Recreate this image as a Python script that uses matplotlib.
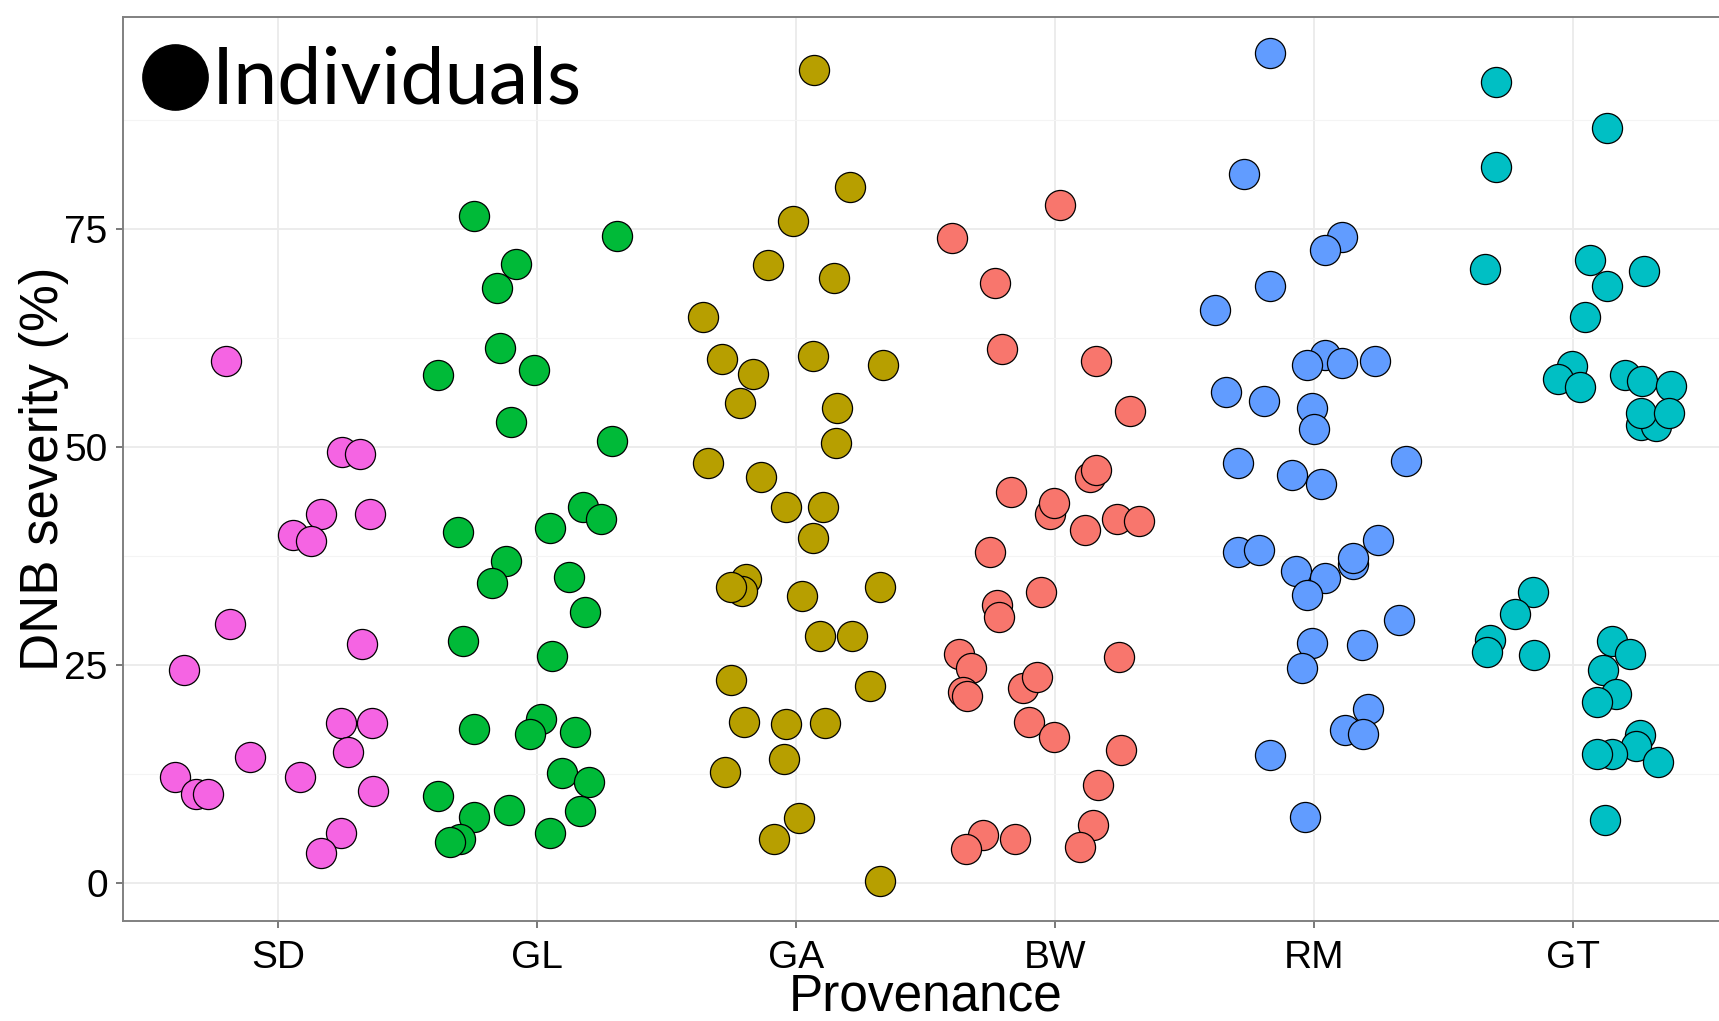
import matplotlib
matplotlib.use("Agg")
import matplotlib.pyplot as plt
from matplotlib.ticker import MultipleLocator

# ---------------- data ----------------
categories = ["SD", "GL", "GA", "BW", "RM", "GT"]
colors = ["#F564E3", "#00BA38", "#B79F00", "#F8766D", "#619CFF", "#00BFC4"]

sd_y = [59.8, 49.4, 49.2, 42.3, 42.3, 39.9, 39.2, 29.7, 24.4, 27.4, 18.3, 18.3,
        15.0, 14.4, 12.2, 12.2, 10.2, 10.2, 10.5, 5.7, 3.4]
sd_jit = [-0.204, 0.246, 0.317, 0.166, 0.352, 0.058, 0.125, -0.185, -0.365, 0.324,
          0.241, 0.360, 0.268, -0.110, -0.399, 0.083, -0.317, -0.272, 0.365, 0.242, 0.166]

gl_y = [76.5, 74.2, 71.0, 68.2, 61.3, 58.3, 58.8, 52.9, 50.7, 43.1, 41.7, 40.3,
        40.7, 36.9, 34.4, 35.1, 31.1, 27.7, 26.0, 18.8, 17.6, 17.1, 17.3, 12.6,
        11.6, 10.0, 8.4, 8.2, 7.6, 5.7, 5.1, 4.7]
gl_jit = [-0.246, 0.309, -0.081, -0.156, -0.143, -0.382, -0.013, -0.102, 0.288, 0.177,
          0.247, -0.307, 0.049, -0.122, -0.176, 0.123, 0.185, -0.287, 0.055, 0.015,
          -0.246, -0.027, 0.144, 0.096, 0.200, -0.382, -0.109, 0.164, -0.246, 0.049,
          -0.297, -0.336]

ga_y = [93.2, 79.8, 75.9, 70.9, 69.4, 64.9, 60.1, 60.4, 59.4, 58.4, 55.0, 54.5,
        50.4, 48.2, 46.6, 43.1, 43.1, 39.6, 34.8, 33.5, 33.9, 32.9, 33.9, 28.3,
        28.3, 23.3, 22.6, 18.5, 18.2, 18.3, 14.2, 12.7, 7.5, 5.1, 0.2]
ga_jit = [0.070, 0.208, -0.013, -0.109, 0.146, -0.361, -0.286, 0.064, 0.334, -0.169,
          -0.217, 0.159, 0.152, -0.339, -0.135, -0.041, 0.105, 0.064, -0.193, -0.209,
          -0.251, 0.024, 0.325, 0.091, 0.215, -0.251, 0.283, -0.202, -0.039, 0.112,
          -0.046, -0.276, 0.010, -0.086, 0.325]

bw_y = [77.7, 74.0, 68.8, 61.2, 59.8, 54.1, 46.6, 47.4, 44.8, 42.3, 43.6, 40.5,
        41.7, 41.5, 38.0, 33.4, 31.9, 30.5, 26.3, 24.6, 25.9, 22.4, 23.6, 21.9,
        21.4, 18.5, 16.7, 15.2, 11.2, 6.6, 5.5, 5.1, 3.9, 4.1]
bw_jit = [0.020, -0.397, -0.232, -0.204, 0.157, 0.287, 0.134, 0.158, -0.169, -0.020,
          -0.006, 0.116, 0.238, 0.322, -0.253, -0.055, -0.226, -0.218, -0.370, -0.326,
          0.246, -0.124, -0.069, -0.356, -0.341, -0.102, -0.006, 0.253, 0.166, 0.144,
          -0.280, -0.157, -0.343, 0.097]

rm_y = [95.2, 81.3, 74.1, 72.6, 68.4, 65.7, 60.5, 59.4, 59.6, 59.8, 56.3, 55.3,
        54.5, 52.1, 48.2, 48.4, 46.8, 45.8, 39.3, 38.0, 38.2, 36.6, 37.3, 35.8,
        35.0, 33.0, 30.1, 27.5, 27.3, 24.7, 20.0, 17.5, 17.1, 14.7, 7.6]
rm_jit = [-0.171, -0.272, 0.106, 0.040, -0.171, -0.383, 0.040, -0.028, 0.108, 0.233,
          -0.342, -0.192, -0.008, 0.000, -0.295, 0.355, -0.087, 0.028, 0.248, -0.295,
          -0.212, 0.151, 0.150, -0.069, 0.040, -0.028, 0.327, -0.008, 0.183, -0.047,
          0.209, 0.120, 0.189, -0.171, -0.035]

gt_y = [91.9, 86.6, 82.1, 70.4, 71.4, 70.2, 68.4, 64.9, 59.3, 57.8, 56.9, 58.2,
        57.6, 57.0, 52.5, 52.4, 53.9, 53.9, 33.4, 30.8, 27.9, 26.5, 26.1, 27.8,
        26.2, 24.4, 21.7, 20.8, 17.0, 15.7, 13.9, 14.8, 14.8, 7.2]
gt_jit = [-0.296, 0.131, -0.296, -0.342, 0.067, 0.274, 0.131, 0.047, -0.006, -0.058,
          0.027, 0.202, 0.265, 0.378, 0.262, 0.321, 0.264, 0.371, -0.156, -0.225,
          -0.320, -0.333, -0.152, 0.150, 0.221, 0.116, 0.165, 0.094, 0.257, 0.244,
          0.328, 0.150, 0.094, 0.122]

groups_y = [sd_y, gl_y, ga_y, bw_y, rm_y, gt_y]
groups_jit = [sd_jit, gl_jit, ga_jit, bw_jit, rm_jit, gt_jit]

y_ticks = [0, 25, 50, 75]

# ---------------- figure ----------------
W, H = 1719, 1021
fig = plt.figure(figsize=(W / 100, H / 100), dpi=100)
fig.patch.set_facecolor("white")

ax_l, ax_r, ax_t, ax_b = 123, 1728.5, 17, 921
ax = fig.add_axes([ax_l / W, (H - ax_b) / H, (ax_r - ax_l) / W, (ax_b - ax_t) / H])
ax.set_xlim(0.4, 6.6)
ax.set_ylim(-4.36, 99.3)

ax.set_axisbelow(True)
ax.yaxis.set_minor_locator(MultipleLocator(12.5))
ax.set_yticks(y_ticks)
ax.set_xticks(range(1, len(categories) + 1))
ax.set_xticklabels(categories)
ax.grid(True, which="major", color="#EBEBEB", lw=1.3)
ax.grid(True, which="minor", axis="y", color="#F4F4F4", lw=0.8)
ax.tick_params(which="minor", length=0)

for i, (ys, js) in enumerate(zip(groups_y, groups_jit)):
    xs = [i + 1 + j for j in js]
    ax.scatter(xs, ys, s=470, c=colors[i], edgecolors="black", linewidths=0.9,
               zorder=3)

for sp in ax.spines.values():
    sp.set_color("#808080")
    sp.set_linewidth(1.4)

ax.tick_params(axis="both", which="major", length=5, width=1.1, color="#555555",
               labelsize=28, labelcolor="black")
ax.tick_params(axis="x", pad=9)
ax.tick_params(axis="y", pad=6)
for lab in ax.get_xticklabels() + ax.get_yticklabels():
    lab.set_family("Liberation Sans")

ax.set_xlabel("Provenance", fontsize=37, family="Liberation Sans", labelpad=-2.5)
ax.set_ylabel("DNB severity (%)", fontsize=38, family="Liberation Sans", labelpad=-3)

# "Individuals" key
ax.plot([175 / W], [(H - 77) / H], marker="o", ms=47, color="black",
        transform=fig.transFigure, clip_on=False, zorder=5)
fig.text(212 / W, (H - 104) / H, "Individuals", fontsize=57, family="Lato",
         ha="left", va="baseline", color="black")

fig.savefig("out.png", dpi=100)
